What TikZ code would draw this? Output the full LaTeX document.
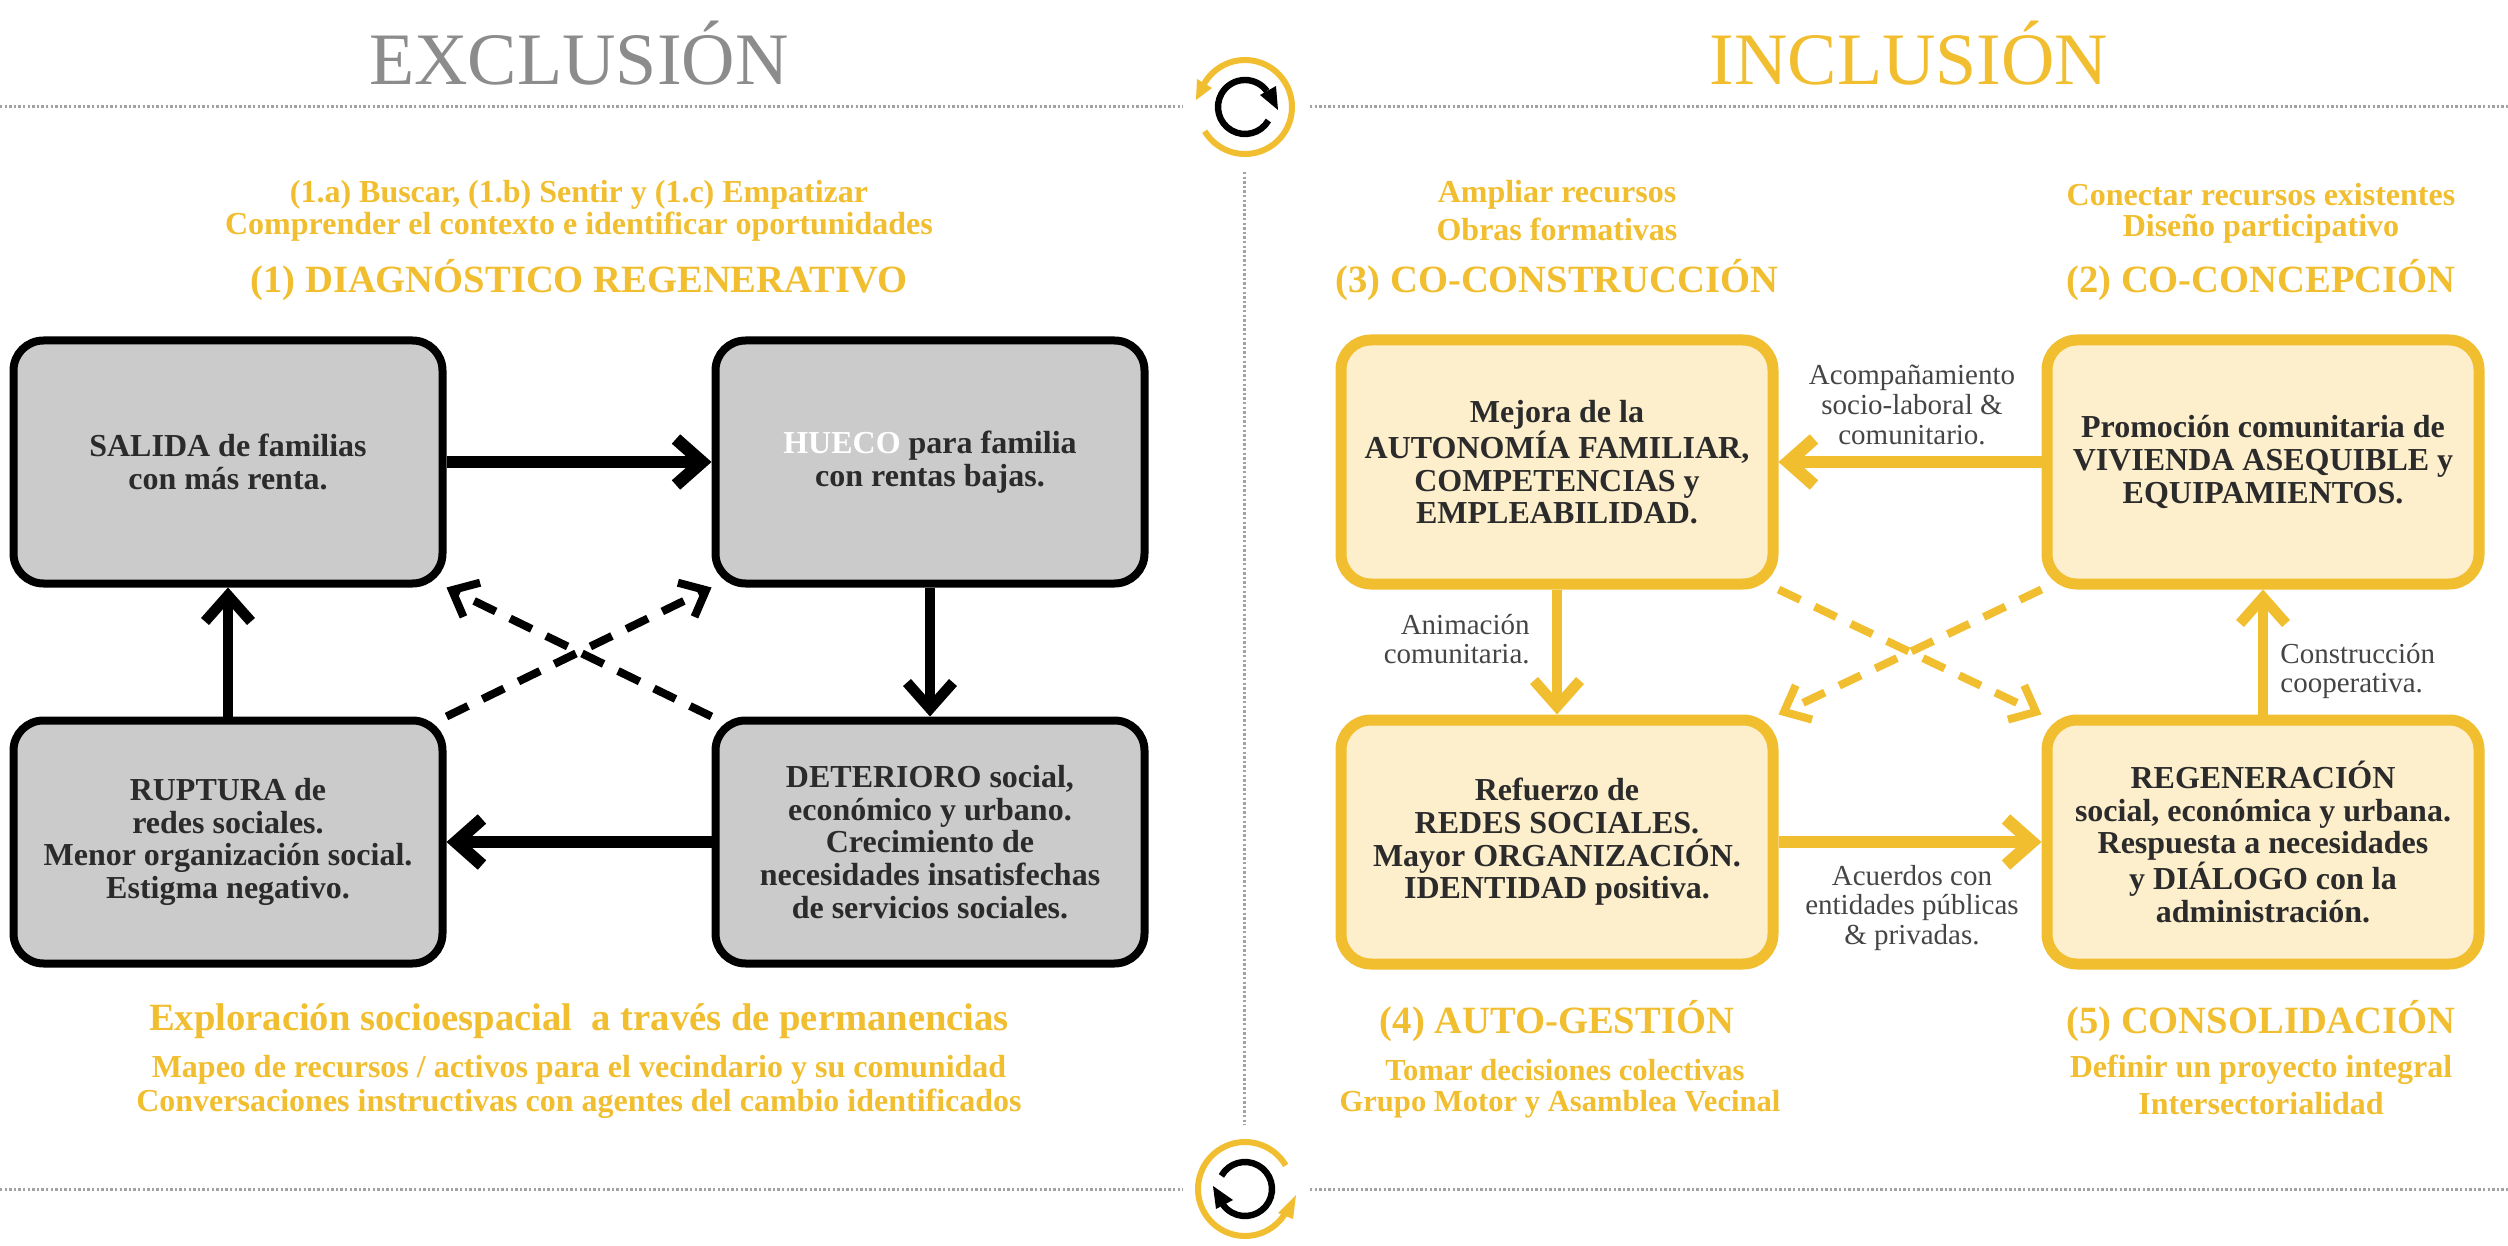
\documentclass[tikz,border=0pt]{standalone}
\usepackage{fontspec}
\setmainfont{Liberation Serif}
\usetikzlibrary{arrows.meta}
\definecolor{gold}{HTML}{F1BE30}
\definecolor{cream}{HTML}{FDEFCC}
\definecolor{boxgrey}{HTML}{CBCBCB}
\definecolor{ink}{HTML}{2B2B2B}
\definecolor{labelink}{HTML}{454545}
\definecolor{dotgrey}{HTML}{A2A2A2}
\definecolor{titlegrey}{HTML}{8C8C8C}
\tikzset{
  boxbase/.style={rounded corners=15pt,minimum width=#1,align=center,text=ink,inner sep=0pt,
     font=\fontsize{16}{16.3}\selectfont\bfseries},
  greybox/.style={boxbase=214.5pt,draw=black,line width=4pt,fill=boxgrey,minimum height=121.5pt},
  goldbox/.style={boxbase=216pt,draw=gold,line width=5.5pt,fill=cream,minimum height=122pt},
  bigtitle/.style={font=\fontsize{37}{40}\selectfont,inner sep=0pt},
  head/.style={text=gold,font=\fontsize{19.3}{22}\selectfont\bfseries,inner sep=0pt},
  sub/.style={text=gold,font=\fontsize{16}{18}\selectfont\bfseries,inner sep=0pt},
  subsmall/.style={text=gold,font=\fontsize{15.3}{18}\selectfont\bfseries,inner sep=0pt},
  edgelabel/.style={text=labelink,inner sep=0pt,font=\fontsize{14.5}{14.8}\selectfont},
  solidarrow/.style={line width=6.3pt,-{Straight Barb[length=13pt,width=23pt]}},
  thinarrow/.style={line width=5.3pt,-{Straight Barb[length=13pt,width=23pt]}},
  dasharrow/.style={line width=4pt,dash pattern=on 12pt off 8pt,-{Straight Barb[length=11pt,width=19pt]}},
  dotline/.style={draw=dotgrey,line width=1.5pt,dash pattern=on 1.2pt off 1.1pt},
  iconring/.style={draw=gold,line width=3pt},
  iconcore/.style={draw=black,line width=3.2pt},
}
\begin{document}
\begin{tikzpicture}[x=.5pt,y=-.5pt]
\useasboundingbox[fill=white] (0,0) rectangle (2508,1246);

% separators
\coordinate (topL0) at (0,107);   \coordinate (topL1) at (1183,107);
\coordinate (topR0) at (1310,107);\coordinate (topR1) at (2508,107);
\coordinate (botL0) at (0,1189);  \coordinate (botL1) at (1183,1189);
\coordinate (botR0) at (1310,1189);\coordinate (botR1) at (2508,1189);
\coordinate (midT) at (1244,172); \coordinate (midB) at (1244,1125);
\draw[dotline] (topL0) -- (topL1);
\draw[dotline] (topR0) -- (topR1);
\draw[dotline] (botL0) -- (botL1);
\draw[dotline] (botR0) -- (botR1);
\draw[dotline] (midT) -- (midB);

% cycle icons
\coordinate (icoT) at (1245,107);
\coordinate (icoB) at (1245,1189);
\draw[iconring] ([shift={(211:23.5pt)}]icoT) arc[start angle=211,end angle=510,radius=23.5pt];
\fill[gold] (1196,100) -- (1197,79) -- (1212,88) -- cycle;
\draw[iconcore] ([shift={(-30:13.5pt)}]icoT) arc[start angle=-30,end angle=-324,radius=13.5pt];
\fill[black] (1278,110) -- (1260,95) -- (1276,86) -- cycle;
\draw[iconring] ([shift={(30:23.5pt)}]icoB) arc[start angle=30,end angle=327,radius=23.5pt];
\fill[gold] (1296,1195) -- (1278,1213) -- (1293,1219) -- cycle;
\draw[iconcore] ([shift={(151:13.5pt)}]icoB) arc[start angle=151,end angle=-145,radius=13.5pt];
\fill[black] (1213,1186) -- (1216,1209) -- (1233,1200) -- cycle;

% titles
\node[bigtitle,text=titlegrey] (texcl) at (579,53) {EXCLUSIÓN};
\node[bigtitle,text=gold] (tincl) at (1909,53) {INCLUSIÓN};

% left header / footer
\node[sub] (l1) at (579,195) {(1.a) Buscar, (1.b) Sentir y (1.c) Empatizar};
\node[sub] (l2) at (579,227) {Comprender el contexto e identificar oportunidades};
\node[head] (l3) at (579,280) {(1) DIAGNÓSTICO REGENERATIVO};
\node[head] (l4) at (579,1021) {Exploración socioespacial\ \ a través de permanencias};
\node[sub] (l5) at (579,1070) {Mapeo de recursos / activos para el vecindario y su comunidad};
\node[sub] (l6) at (579,1104) {Conversaciones instructivas con agentes del cambio identificados};

% right header / footer
\node[sub] (r1) at (1557,195) {Ampliar recursos};
\node[sub] (r2) at (1557,229) {Obras formativas};
\node[head] (r3) at (1557,280) {(3) CO-CONSTRUCCIÓN};
\node[sub] (r4) at (2261,195) {Conectar recursos existentes};
\node[sub] (r5) at (2261,229) {Diseño participativo};
\node[head] (r6) at (2261,280) {(2) CO-CONCEPCIÓN};
\node[head] (r7) at (1557,1021) {(4) AUTO-GESTIÓN};
\node[subsmall] (r8) at (1565,1070) {Tomar decisiones colectivas};
\node[subsmall] (r9) at (1560,1104) {Grupo Motor y Asamblea Vecinal};
\node[head] (r10) at (2261,1021) {(5) CONSOLIDACIÓN};
\node[sub] (r11) at (2261,1070) {Definir un proyecto integral};
\node[sub] (r12) at (2261,1104) {Intersectorialidad};

% left boxes
\node[greybox] (salida) at (228,462) {SALIDA de familias\\con más renta.};
\node[greybox] (hueco) at (930,462) {\textcolor{white}{HUECO} para familia\\con rentas bajas.};
\node[greybox] (ruptura) at (228,842) {RUPTURA de\\redes sociales.\\Menor organización social.\\Estigma negativo.};
\node[greybox] (deterioro) at (930,842) {DETERIORO social,\\económico y urbano.\\Crecimiento de\\necesidades insatisfechas\\de servicios sociales.};

% left arrows
\draw[solidarrow,draw=black] (salida) -- (hueco);
\draw[thinarrow,draw=black] (hueco) -- (deterioro);
\draw[solidarrow,draw=black] (deterioro) -- (ruptura);
\draw[thinarrow,draw=black] (ruptura) -- (salida);
\draw[dasharrow,draw=black] (ruptura.north east) -- (hueco.south west);
\draw[dasharrow,draw=black] (deterioro.north west) -- (salida.south east);

% right boxes
\node[goldbox] (mejora) at (1557,462) {Mejora de la\\AUTONOMÍA FAMILIAR,\\COMPETENCIAS y\\EMPLEABILIDAD.};
\node[goldbox] (promo) at (2263,462) {Promoción comunitaria de\\VIVIENDA ASEQUIBLE y\\EQUIPAMIENTOS.};
\node[goldbox] (refuerzo) at (1557,842) {Refuerzo de\\REDES SOCIALES.\\Mayor ORGANIZACIÓN.\\IDENTIDAD positiva.};
\node[goldbox] (regen) at (2263,842) {REGENERACIÓN\\social, económica y urbana.\\Respuesta a necesidades\\y DIÁLOGO con la\\administración.};

% right arrows
\draw[solidarrow,draw=gold] (promo) -- (mejora);
\draw[thinarrow,draw=gold] (mejora) -- (refuerzo);
\draw[solidarrow,draw=gold] (refuerzo) -- (regen);
\draw[thinarrow,draw=gold] (regen) -- (promo);
\draw[dasharrow,draw=gold] (mejora.south east) -- (regen.north west);
\draw[dasharrow,draw=gold] (promo.south west) -- (refuerzo.north east);

% connector labels
\node[edgelabel,align=center] (la) at (1912,405) {Acompañamiento\\socio-laboral \&\\comunitario.};
\node[edgelabel,align=right,anchor=east] (lb) at (1530,639) {Animación\\comunitaria.};
\node[edgelabel,align=left,anchor=west] (lc) at (2280,671) {Construcción\\cooperativa.};
\node[edgelabel,align=center] (ld) at (1912,908) {Acuerdos con\\entidades públicas\\\& privadas.};
\end{tikzpicture}
\end{document}
